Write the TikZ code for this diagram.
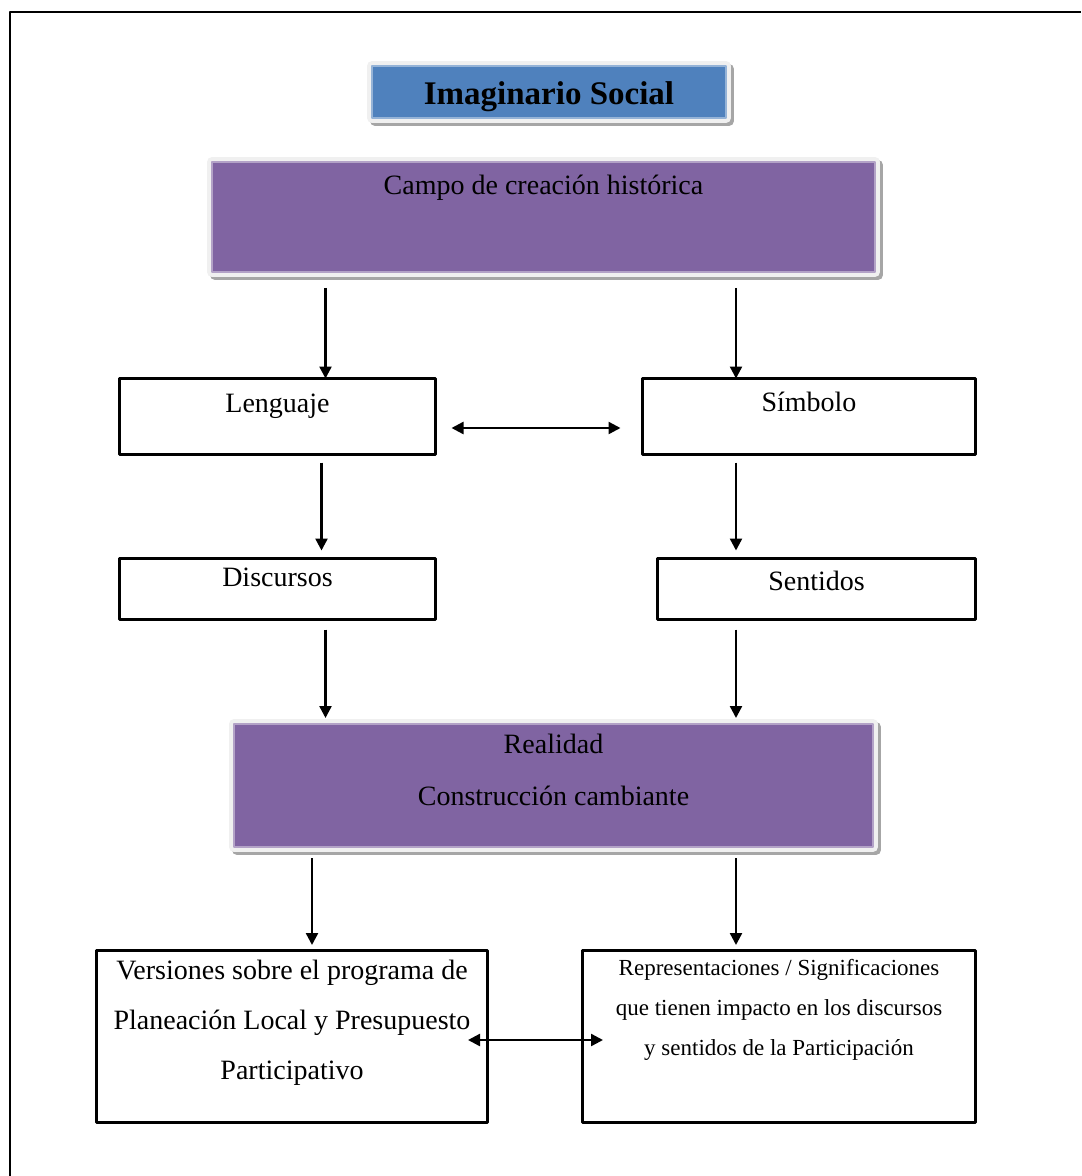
\documentclass[tikz,border=0pt]{standalone}
\usepackage{fontspec}
\setmainfont{Liberation Serif}
\usetikzlibrary{arrows.meta}
\definecolor{azul}{HTML}{4F81BD}
\definecolor{azulclaro}{HTML}{95B3D7}
\definecolor{morado}{HTML}{8064A2}
\definecolor{moradoclaro}{HTML}{B3A2C7}
\definecolor{borde}{HTML}{F0F0F0}
\definecolor{sombra}{HTML}{A6A6A6}
\tikzset{
  caja/.style={draw, line width=1.2pt, outer sep=0pt, inner sep=0pt},
  relieve/.style={outer sep=0pt, inner sep=0pt, line width=0.6pt,
    preaction={draw=sombra, line width=5pt, transform canvas={shift={(1.5pt,-1.5pt)}}},
    preaction={draw=borde, line width=5pt}},
  texto/.style={anchor=north, inner sep=0pt, align=center},
  flecha/.style={->, line width=1.2pt},
}
\begin{document}
\begin{tikzpicture}[x=0.5pt,y=-0.5pt,>={Stealth[length=6pt,width=6pt,inset=0pt]}, font=\fontsize{14}{26}\selectfont, line join=round]
\useasboundingbox (0,0) rectangle (1081,1176);
\draw[line width=1pt] (10,1176) -- (10,12) -- (1081,12);
% cajas
\node[relieve, fill=azul, draw=azulclaro, minimum width=177pt, text height=19.5pt, text depth=6.5pt, font=\fontsize{16.5}{20}\selectfont\bfseries] (titulo) at (549,92) {Imaginario Social};
\node[relieve, fill=morado, draw=moradoclaro, minimum width=331.5pt, minimum height=55pt,
  label={[texto, yshift=-6.5pt]north:Campo de creación histórica}] (campo) at (543.5,217) {};
\node[caja, minimum width=158pt, minimum height=38pt, label={[texto, yshift=-7.75pt]north:Lenguaje}] (lenguaje) at (277.5,416.5) {};
\node[caja, minimum width=166.5pt, minimum height=38pt, label={[texto, yshift=-6.75pt]north:Símbolo}] (simbolo) at (809,416.5) {};
\node[caja, minimum width=158pt, minimum height=30.5pt, label={[texto, yshift=-4.75pt]north:Discursos}] (discursos) at (277.5,589) {};
\node[caja, minimum width=159pt, minimum height=30.5pt, label={[texto, yshift=-6.25pt]north:Sentidos}] (sentidos) at (816.5,589) {};
\node[relieve, fill=morado, draw=moradoclaro, minimum width=319.5pt, minimum height=61.5pt,
  label={[texto, yshift=-5pt]north:Realidad\\Construcción cambiante}] (realidad) at (553.5,785.5) {};
\node[caja, minimum width=195.5pt, minimum height=86pt,
  label={[texto, yshift=-4.75pt, font=\fontsize{14}{25}\selectfont]north:Versiones sobre el programa de\\Planeación Local y Presupuesto\\Participativo}] (versiones) at (292,1036.5) {};
\node[caja, minimum width=196.5pt, minimum height=86pt,
  label={[texto, yshift=-4.25pt, font=\fontsize{11.5}{20}\selectfont]north:Representaciones / Significaciones\\que tienen impacto en los discursos\\y sentidos de la Participación}] (representaciones) at (779,1036.5) {};
% flechas
\draw[flecha, shorten <=8pt] ([xshift=24pt]lenguaje.north |- campo.south) -- ([xshift=24pt]lenguaje.north);
\draw[flecha, shorten <=8pt] ([xshift=-36.5pt]simbolo.north |- campo.south) -- ([xshift=-36.5pt]simbolo.north);
\draw[<->, line width=1.2pt, shorten <=8pt, shorten >=11pt] ([yshift=-5.75pt]lenguaje.east) -- ([yshift=-5.75pt]simbolo.west);
\draw[flecha, shorten <=4pt, shorten >=4pt] ([xshift=22pt]lenguaje.south) -- ([xshift=22pt]lenguaje.south |- discursos.north);
\draw[flecha, shorten <=4pt, shorten >=4pt] ([xshift=-36.5pt]simbolo.south) -- ([xshift=-36.5pt]simbolo.south |- sentidos.north);
\draw[flecha, shorten <=5pt, shorten >=3pt] ([xshift=24pt]discursos.south) -- ([xshift=24pt]discursos.south |- realidad.north);
\draw[flecha, shorten <=5pt, shorten >=3pt] ([xshift=-40.25pt]sentidos.south) -- ([xshift=-40.25pt]sentidos.south |- realidad.north);
\draw[flecha, shorten <=5.5pt, shorten >=2.75pt] ([xshift=10pt]versiones.north |- realidad.south) -- ([xshift=10pt]versiones.north);
\draw[flecha, shorten <=5.5pt, shorten >=2.75pt] ([xshift=-21.5pt]representaciones.north |- realidad.south) -- ([xshift=-21.5pt]representaciones.north);
\draw[<->, line width=1.2pt, shorten <=-9.75pt, shorten >=-10.25pt] ([yshift=-1.75pt]versiones.east) -- ([yshift=-1.75pt]representaciones.west);
\end{tikzpicture}
\end{document}
